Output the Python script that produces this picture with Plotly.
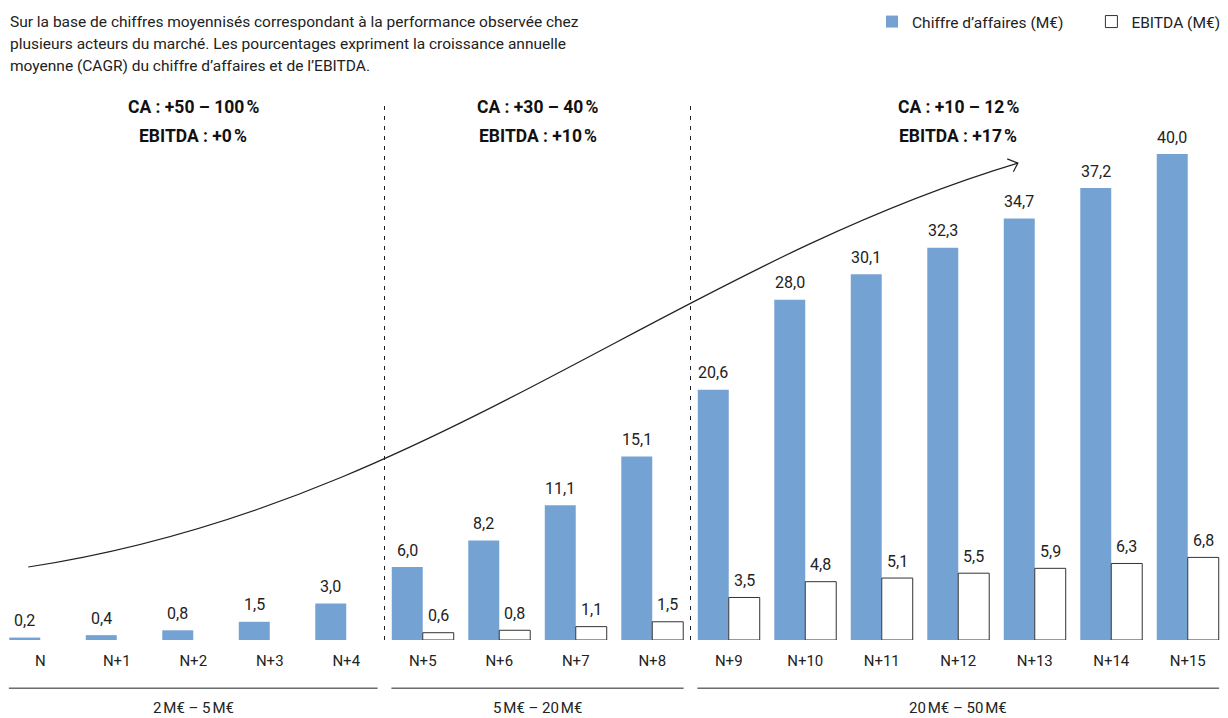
import plotly.graph_objects as go

# --- data -------------------------------------------------------------
years = ["N", "N+1", "N+2", "N+3", "N+4", "N+5", "N+6", "N+7",
         "N+8", "N+9", "N+10", "N+11", "N+12", "N+13", "N+14", "N+15"]
chiffre_affaires = [0.2, 0.4, 0.8, 1.5, 3.0, 6.0, 8.2, 11.1,
                    15.1, 20.6, 28.0, 30.1, 32.3, 34.7, 37.2, 40.0]
ebitda = [None, None, None, None, None, 0.6, 0.8, 1.1,
          1.5, 3.5, 4.8, 5.1, 5.5, 5.9, 6.3, 6.8]

phase_ranges = ["2\u202fM€ – 5\u202fM€", "5\u202fM€ – 20\u202fM€", "20\u202fM€ – 50\u202fM€"]
phase_ca = ["CA : +50 – 100\u202f%", "CA : +30 – 40\u202f%", "CA : +10 – 12\u202f%"]
phase_ebitda = ["EBITDA : +0\u202f%", "EBITDA : +10\u202f%", "EBITDA : +17\u202f%"]
phase_bounds = [(0, 4), (5, 8), (9, 15)]   # first / last year index of each phase

note_lines = [
    "Sur la base de chiffres moyennisés correspondant à la performance observée chez",
    "plusieurs acteurs du marché. Les pourcentages expriment la croissance annuelle",
    "moyenne (CAGR) du chiffre d’affaires et de l’EBITDA.",
]

# --- style ------------------------------------------------------------
FONT = "Roboto, 'Open Sans', sans-serif"
INK = "#222222"
BLUE = "#74A3D3"
Y_MAX = 46.1
BARGAP = 0.19
HALF = (1 - BARGAP) / 4          # offset of each bar centre from its category
LEGEND_PAD = "\u00a0" * 6        # extra room between the two legend entries

x = list(range(len(years)))

fig = go.Figure()
fig.add_trace(go.Bar(
    x=x, y=chiffre_affaires, name="Chiffre d’affaires (M€)" + LEGEND_PAD,
    marker=dict(color=BLUE, line=dict(width=0)),
))
fig.add_trace(go.Bar(
    x=x, y=ebitda, name="EBITDA (M€)",
    marker=dict(color="white", line=dict(color="#333333", width=1)),
))

shapes = []
annotations = []

# value labels above each bar
for series, dx in ((chiffre_affaires, -HALF), (ebitda, HALF)):
    for xi, v in zip(x, series):
        if v is None:
            continue
        annotations.append(dict(xref="x", yref="y", x=xi + dx, y=v,
                                yanchor="middle", yshift=17,
                                text=f"{v:.1f}".replace(".", ","), showarrow=False,
                                font=dict(size=16, color=INK, family=FONT)))

# dashed separators between phases
for b in phase_bounds[1:]:
    sep = b[0] - 0.5
    shapes.append(dict(type="line", xref="x", yref="y", x0=sep, x1=sep,
                       y0=0, y1=44.0,
                       line=dict(color=INK, width=1, dash="4px,6px")))

# phase brackets, range labels and growth rates
for (a, b), rng, ca, eb in zip(phase_bounds, phase_ranges, phase_ca, phase_ebitda):
    mid = (a + b) / 2
    shapes.append(dict(type="line", xref="x", yref="paper",
                       x0=a - 0.41, x1=b + 0.41, y0=-0.086, y1=-0.086,
                       line=dict(color=INK, width=1)))
    annotations.append(dict(xref="x", yref="paper", x=mid, y=-0.1215,
                            yanchor="middle",
                            text=rng, showarrow=False,
                            font=dict(size=15, color=INK, family=FONT)))
    annotations.append(dict(xref="x", yref="y", x=mid, y=43.87,
                            text=f"<b>{ca}</b>", showarrow=False,
                            font=dict(size=17.5, color="#111111", family=FONT)))
    annotations.append(dict(xref="x", yref="y", x=mid, y=41.48,
                            text=f"<b>{eb}</b>", showarrow=False,
                            font=dict(size=17.5, color="#111111", family=FONT)))

# growth trend arrow (cubic curve + open arrow head)
shapes.append(dict(type="path", xref="x", yref="y",
                   path="M -0.157,6.01 C 5.07,11.03 8.21,30.62 12.78,39.26",
                   line=dict(color=INK, width=1.2)))
shapes.append(dict(type="path", xref="x", yref="y",
                   path="M 12.64,39.61 L 12.78,39.26 L 12.72,38.54",
                   line=dict(color=INK, width=1.2)))

# explanatory note, top left
for i, line in enumerate(note_lines):
    annotations.append(dict(xref="paper", yref="paper", x=0.005, xanchor="left",
                            y=1.1036 - i * 0.0395, yanchor="middle",
                            text=line, showarrow=False, align="left",
                            font=dict(size=15.5, color=INK, family=FONT)))

fig.update_layout(
    width=1228, height=718,
    margin=dict(l=2, r=2, t=80, b=78),
    paper_bgcolor="white", plot_bgcolor="white",
    barmode="group", bargap=BARGAP, bargroupgap=0,
    font=dict(family=FONT, color=INK, size=14),
    showlegend=True,
    legend=dict(orientation="h", x=1.0, xanchor="right", y=1.1036, yanchor="middle",
                font=dict(size=15.5, color=INK, family=FONT),
                bgcolor="rgba(0,0,0,0)", itemwidth=30, traceorder="normal"),
    xaxis=dict(tickmode="array", tickvals=x, ticktext=years,
               range=[-0.5, 15.5], showgrid=False, zeroline=False,
               showline=False, ticks="", ticklabelstandoff=10,
               tickfont=dict(size=15, color=INK, family=FONT), fixedrange=True),
    yaxis=dict(range=[0, Y_MAX], visible=False, showgrid=False, zeroline=False,
               fixedrange=True),
    shapes=shapes,
    annotations=annotations,
)

fig.write_html("out.html")
